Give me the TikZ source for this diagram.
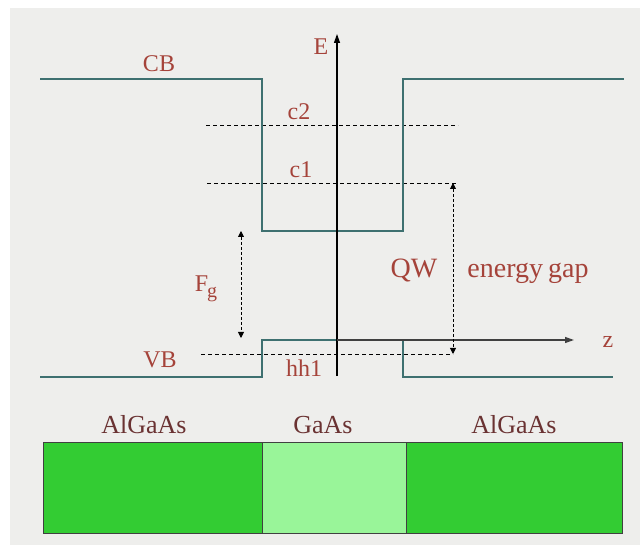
\documentclass[tikz,border=0pt]{standalone}
\usepackage{fontspec}
\setmainfont{Liberation Serif}
\usetikzlibrary{arrows.meta}
\definecolor{bg}{HTML}{EEEEEC}
\definecolor{band}{HTML}{3E7070}
\definecolor{lbl}{HTML}{A5433A}
\definecolor{mat}{HTML}{6A3232}
\definecolor{green1}{HTML}{33CC33}
\definecolor{green2}{HTML}{99F599}
\tikzset{
  bandline/.style={draw=band, line width=2.8pt},
  level/.style={draw=black, line width=0.8pt, dash pattern=on 4pt off 3pt},
  gaparrow/.style={draw=black, line width=0.9pt, dash pattern=on 3pt off 2pt, {Triangle[length=6pt,width=6pt]}-{Triangle[length=6pt,width=6pt]}},
  axis/.style={line width=1.2pt, -{Triangle[length=9pt,width=6pt]}},
  lab/.style={text=lbl, font=\fontsize{24}{26}\selectfont, inner sep=0pt, anchor=base},
  biglab/.style={text=lbl, font=\fontsize{28}{30}\selectfont, inner sep=0pt, anchor=base},
  matlab/.style={text=mat, font=\fontsize{26}{28}\selectfont, inner sep=0pt, anchor=base},
  layer/.style={draw=black!75, line width=1pt}
}
\begin{document}
\begin{tikzpicture}[x=1pt,y=-1pt]
\useasboundingbox (0,0) rectangle (640,545);
\fill[white] (0,0) rectangle (640,545);
\fill[bg] (10,8) rectangle (640,545);

% coordinates
\coordinate (cbL) at (40,79);
\coordinate (cbR) at (624,79);
\coordinate (vbL) at (40,377);
\coordinate (vbR) at (613,377);
\coordinate (eB) at (337,376);
\coordinate (eT) at (337,34);
\coordinate (zL) at (337,340);
\coordinate (zR) at (574,340);

% energy levels
\coordinate (c2L) at (206,125); \coordinate (c2R) at (458,125);
\coordinate (c1L) at (207,183); \coordinate (c1R) at (458,183);
\coordinate (h1L) at (201,354); \coordinate (h1R) at (453,354);
\draw[level] (c2L) -- (c2R);
\draw[level] (c1L) -- (c1R);
\draw[level] (h1L) -- (h1R);

% bands
\draw[bandline] (cbL) -- (262,79) -- (262,231) -- (403,231) -- (403,79) -- (cbR);
\draw[bandline] (vbL) -- (262,377) -- (262,340) -- (403,340) -- (403,377) -- (vbR);

% axes
\draw[axis, black] (eB) -- (eT);
\draw[axis, black!75] (zL) -- (zR);

% gap arrows
\coordinate (qwT) at (453,183); \coordinate (qwB) at (453,354);
\draw[gaparrow] (qwT) -- (qwB);
\coordinate (egT) at (241,231); \coordinate (egB) at (241,338);
\draw[gaparrow] (egT) -- (egB);

% labels
\node[lab] (E) at (321,55) {E};
\node[lab] (z) at (608,348) {z};
\node[lab] (CB) at (159,72) {CB};
\node[lab] (VB) at (160,367) {VB};
\node[lab] (c2) at (299,120) {c2};
\node[lab] (c1) at (301,178) {c1};
\node[lab] (hh1) at (304,376) {hh1};
\node[lab] (Fg) at (206,292) {F\kern-1pt\raisebox{-6pt}{\fontsize{20}{22}\selectfont g}};
\node[biglab] (QW) at (414,278) {QW};
\node[biglab] (gap) at (528,278) {energy\kern-2pt\ gap};

% layers
\node[layer, fill=green1, minimum width=219pt, minimum height=91pt, inner sep=0pt] (lay1) at (152.5,487.5) {};
\node[layer, fill=green2, minimum width=144pt, minimum height=91pt, inner sep=0pt] (lay2) at (334,487.5) {};
\node[layer, fill=green1, minimum width=216pt, minimum height=91pt, inner sep=0pt] (lay3) at (514,487.5) {};
\node[matlab] (m1) at (144,433) {AlGaAs};
\node[matlab] (m2) at (323,433) {GaAs};
\node[matlab] (m3) at (514,433) {AlGaAs};
\end{tikzpicture}
\end{document}
